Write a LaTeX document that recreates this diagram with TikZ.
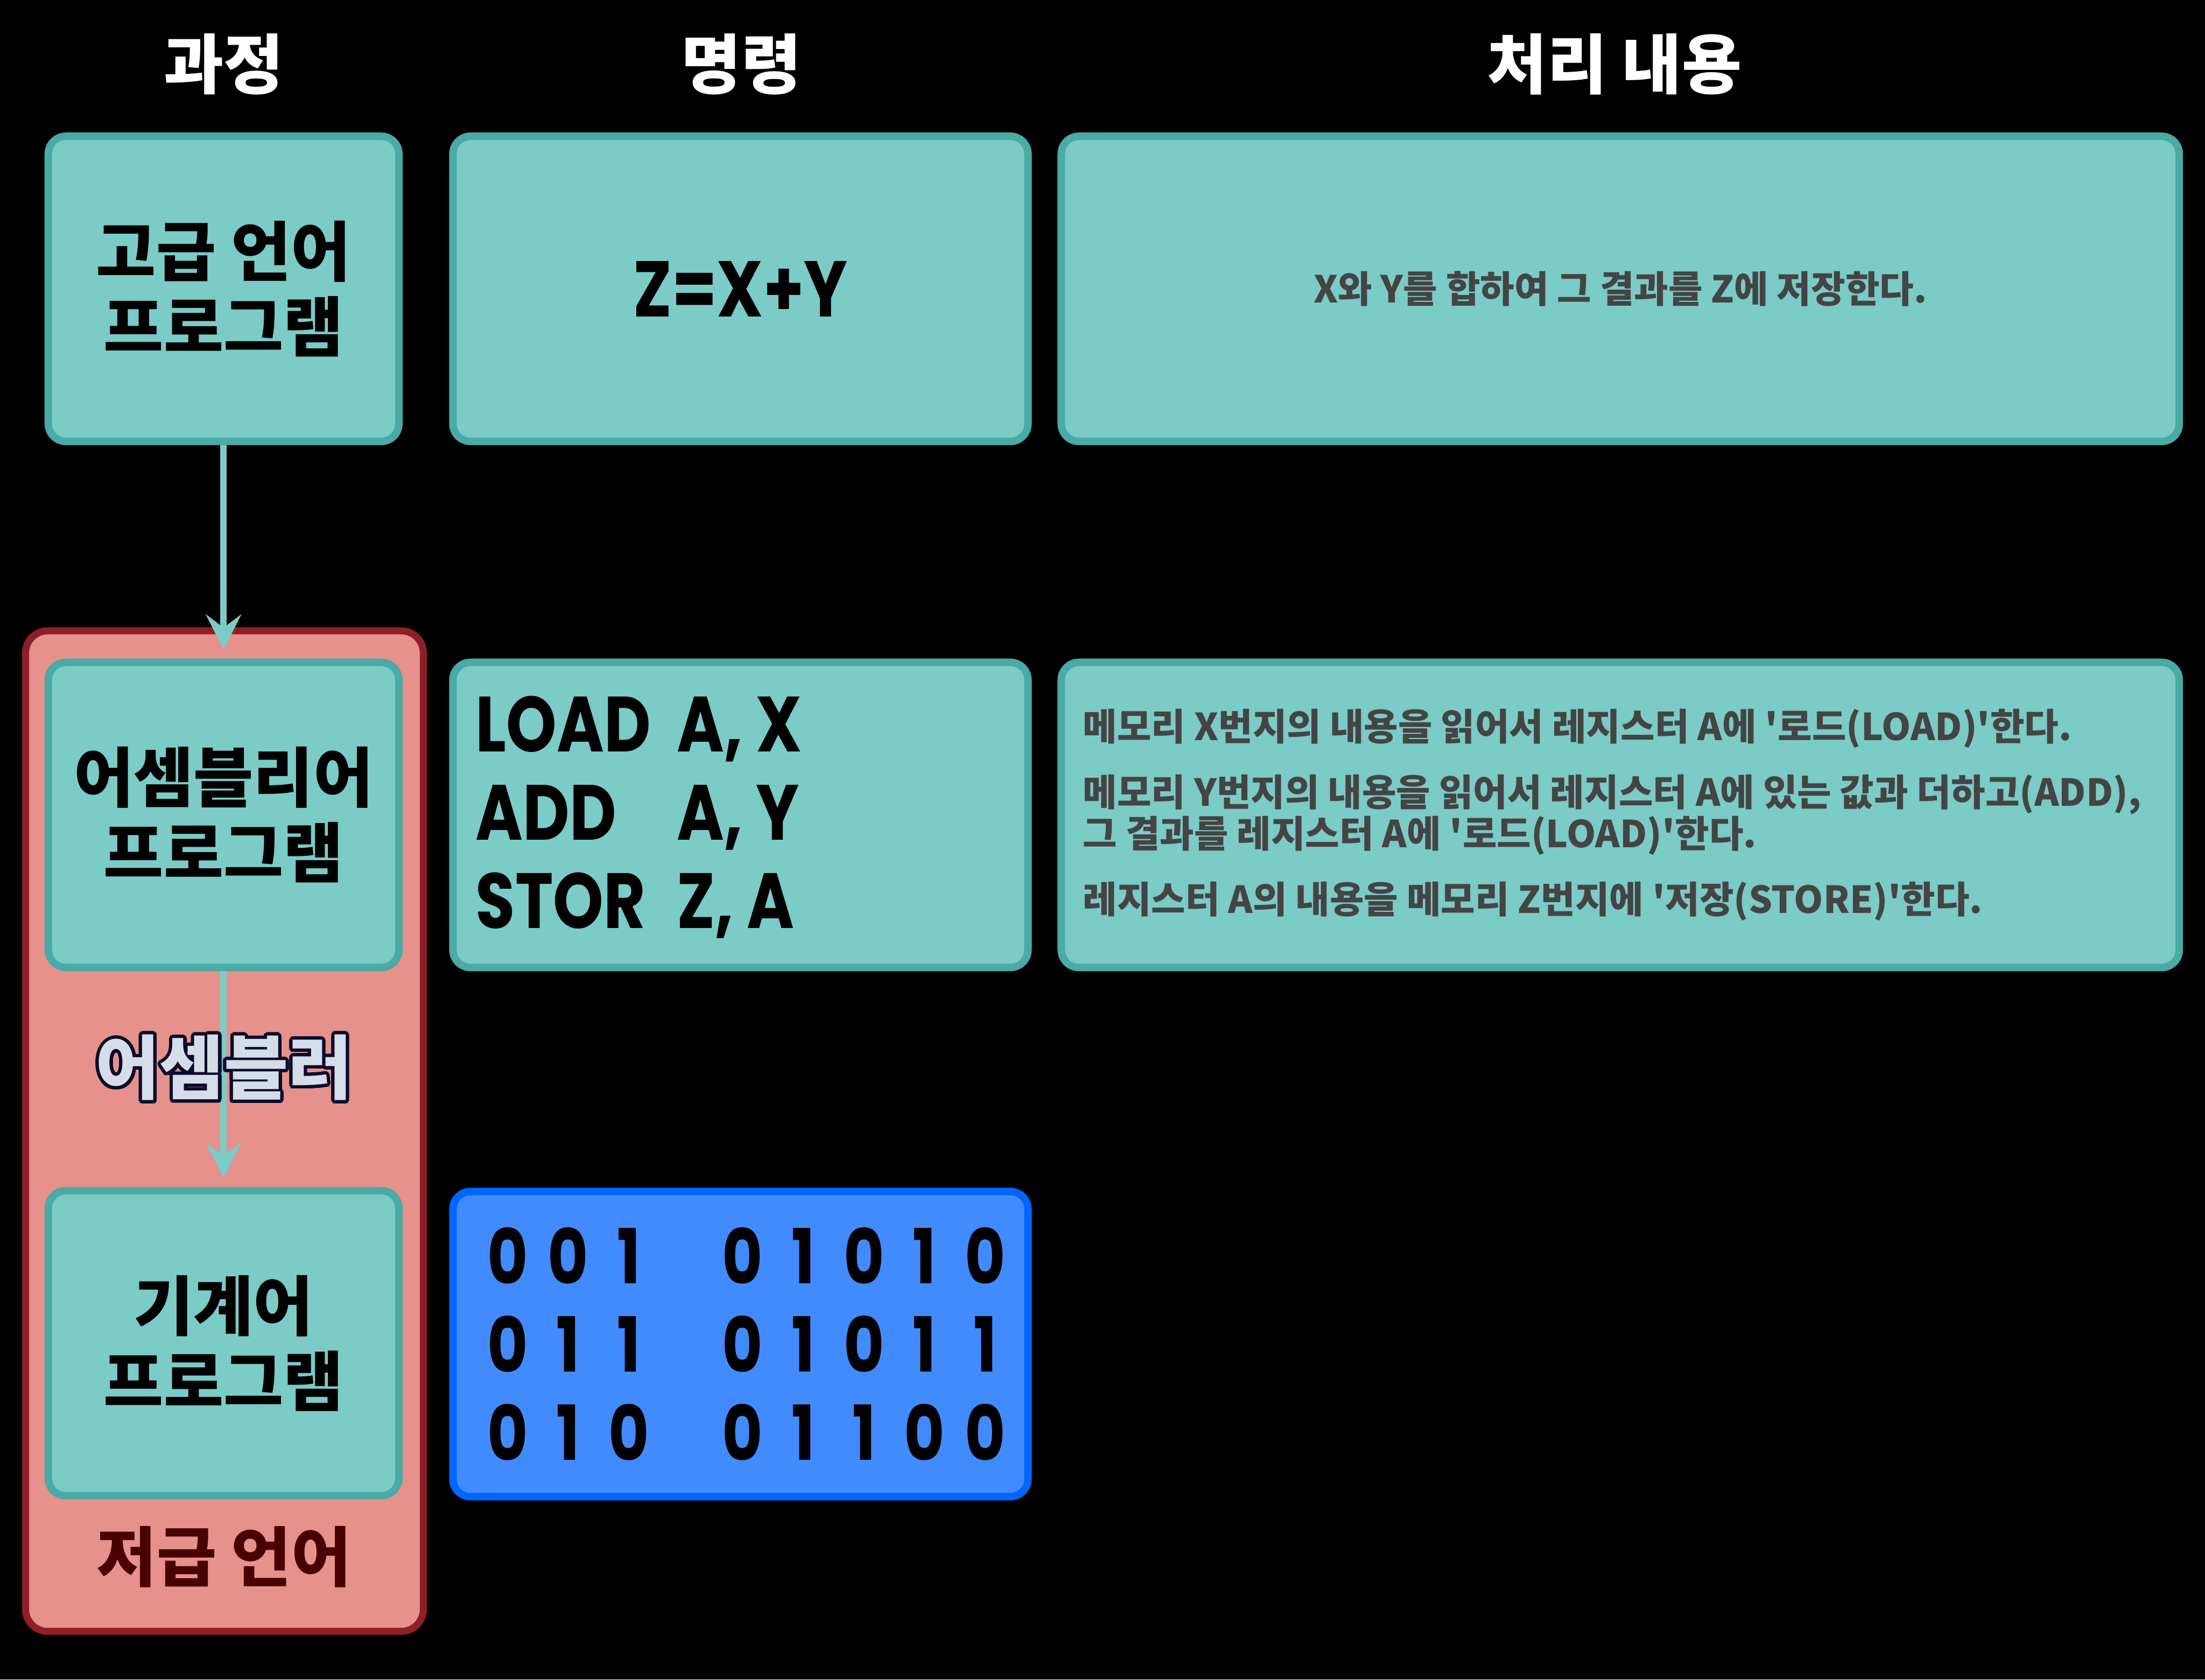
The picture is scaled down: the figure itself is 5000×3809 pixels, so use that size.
\documentclass[tikz,border=0pt]{standalone}
\usepackage{fontspec}
\usepackage{xcolor}
\usetikzlibrary{arrows.meta}
\usetikzlibrary{positioning}

\newfontfamily\krfont{Noto Sans CJK KR}
\newfontfamily\codefont{Poppins}[FakeStretch=0.82]

\definecolor{tealfill}{HTML}{7BCBC7}
\definecolor{tealedge}{HTML}{4AAAA5}
\definecolor{redfill}{HTML}{E6918B}
\definecolor{rededge}{HTML}{8F1E27}
\definecolor{bluefill}{HTML}{418BFF}
\definecolor{blueedge}{HTML}{0066FF}
\definecolor{desctext}{HTML}{444444}
\definecolor{lowtext}{HTML}{480000}
\definecolor{asmfill}{HTML}{D5DEE8}
\definecolor{asmline}{HTML}{0A0B2B}

\tikzset{
  card/.style={draw=tealedge, fill=tealfill, line width=1.7mm, rounded corners=4mm,
    minimum height=69.2mm, align=center, inner sep=0pt},
  stagecard/.style={card, minimum width=79.5mm,
    font=\krfont\bfseries\fontsize{42}{48.6}\selectfont},
  cmdcard/.style={card, minimum width=130.4mm,
    font=\codefont\bfseries\fontsize{51}{57}\selectfont},
  desccard/.style={card, minimum width=253.5mm, text=desctext,
    font=\krfont\bfseries\fontsize{24}{26.5}\selectfont},
  bincard/.style={card, draw=blueedge, fill=bluefill, minimum width=130.4mm, minimum height=69.2mm},
  lowbox/.style={draw=rededge, fill=redfill, line width=1.6mm, rounded corners=5mm,
    minimum width=90.2mm, minimum height=226.9mm},
  header/.style={text=white, font=\krfont\bfseries\fontsize{42}{48}\selectfont},
  codeword/.style={inner sep=0pt, font=\codefont\bfseries\fontsize{50.5}{57}\selectfont},
  bitdigit/.style={inner sep=0pt, font=\codefont\bfseries\fontsize{49}{57}\selectfont},
  desclines/.style={inner sep=0pt, align=left, text=desctext,
    font=\krfont\bfseries\fontsize{24}{26.5}\selectfont},
  asmedge/.style={text=asmline, font=\krfont\bfseries\fontsize{45}{48}\selectfont},
  asmlabel/.style={text=asmfill, font=\krfont\bfseries\fontsize{45}{48}\selectfont},
  lowlabel/.style={text=lowtext, font=\krfont\bfseries\fontsize{42}{48}\selectfont},
  flow/.style={draw=tealfill, line width=1.5mm,
    -{Stealth[length=8mm,width=8mm,inset=3mm]}, shorten >=2mm}
}

\begin{document}
\begin{tikzpicture}[x=0.1mm, y=-0.1mm]
\fill[black] (0,0) rectangle (5000,3809);
\useasboundingbox (0,0) rectangle (5000,3809);

% column titles
\node[header] (head-stage) at (507,146) {과정};
\node[header] (head-cmd) at (1681,146) {명령};
\node[header] (head-desc) at (3661,146) {처리 내용};

% low level group
\node[lowbox] (low-level) at (509,2565) {};

% high level row
\node[stagecard] (proc-high) at (507,655) {고급 언어\\프로그램};
\node[cmdcard] (cmd-high) at (1679,655) {Z=X+Y};
\node[desccard] (desc-high) at (3674,655) {X와 Y를 합하여 그 결과를 Z에 저장한다.};

% assembly row
\node[stagecard] (proc-asm) at (507,1848) {어셈블리어\\프로그램};
\node[card, minimum width=130.4mm] (cmd-asm) at (1679,1848) {};
\foreach \op/\arg/\yy [count=\i] in {LOAD/{A, X}/1705, ADD/{A, Y}/1905, STOR/{Z, A}/2105}{
  \node[codeword, anchor=base west] (op-\i) at (1078,\yy) {\op};
  \node[codeword, anchor=base west] (arg-\i) at (1534,\yy) {\arg};
}
\node[card, minimum width=253.5mm] (desc-asm) at (3674,1848) {};
\node[desclines, anchor=west] (desc-asm-text) at ([xshift=5.7mm]desc-asm.west)
  {메모리 X번지의 내용을 읽어서 레지스터 A에 '로드(LOAD)'한다.\\[16pt]
   메모리 Y번지의 내용을 읽어서 레지스터 A에 있는 값과 더하고(ADD),\\
   그 결과를 레지스터 A에 '로드(LOAD)'한다.\\[16pt]
   레지스터 A의 내용을 메모리 Z번지에 '저장(STORE)'한다.};

% machine row
\node[stagecard] (proc-mach) at (507,3046) {기계어\\프로그램};
\node[bincard] (cmd-mach) at (1679,3048) {};
\foreach \bits [count=\r] in {{0,0,1,0,1,0,1,0},{0,1,1,0,1,0,1,1},{0,1,0,0,1,1,0,0}}
  \foreach \b [count=\c] in \bits {
    \pgfmathsetmacro\bx{\c<4 ? 1151+137.5*(\c-1) : 1684+137.5*(\c-4)}
    \node[bitdigit] (bit-\r-\c) at (\bx,{2848+200*(\r-1)}) {\b};
  }

% translation arrows
\draw[flow] (proc-high.south) -- (proc-asm.north);
\draw[flow] (proc-asm.south) -- (proc-mach.north);

% assembler label with outline
\coordinate (asm-c) at (508,2421);
\foreach \ang in {0,15,...,345}
  \node[asmedge] (asm-edge-\ang) at ([shift={(\ang:0.75mm)}]asm-c) {어셈블러};
\node[asmlabel] (assembler) at (asm-c) {어셈블러};

\node[lowlabel] (low-title) at (508,3531) {저급 언어};
\end{tikzpicture}
\end{document}
